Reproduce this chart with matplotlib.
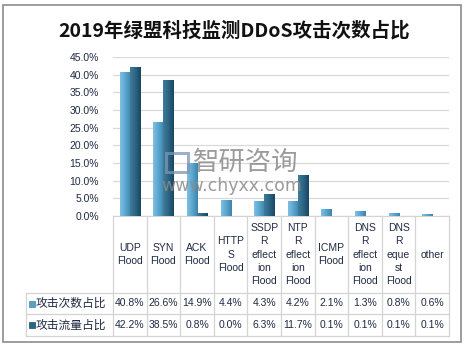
import matplotlib
matplotlib.use("Agg")
import matplotlib.pyplot as plt
from matplotlib.patches import Rectangle
from matplotlib.colors import LinearSegmentedColormap
import numpy as np

# Data
categories = ["UDP\nFlood", "SYN\nFlood", "ACK\nFlood", "HTTP\nS\nFlood",
              "SSDP\nR\neflect\nion\nFlood", "NTP\nR\neflect\nion\nFlood",
              "ICMP\nFlood", "DNS\nR\neflect\nion\nFlood",
              "DNS\nR\neque\nst\nFlood", "other"]
series_names = ["攻击次数占比", "攻击流量占比"]
count_share = [40.8, 26.6, 14.9, 4.4, 4.3, 4.2, 2.1, 1.3, 0.8, 0.6]
traffic_share = [42.2, 38.5, 0.8, 0.0, 6.3, 11.7, 0.1, 0.1, 0.1, 0.1]
yticks = [0, 5, 10, 15, 20, 25, 30, 35, 40, 45]

colors = ["#5aa0c6", "#2b6584"]
edges = ["#3f86ad", "#1c4c66"]
grads = [["#7fbfe0", "#5aa6cf", "#3d83a8"], ["#3f7c9c", "#2b6584", "#184660"]]
text_color = "#1f2a44"
line_color = "#d4d4d4"

plt.rcParams["font.family"] = ["Liberation Sans", "Noto Sans CJK SC", "DejaVu Sans"]

W, H = 468, 348
fig = plt.figure(figsize=(W / 100, H / 100), dpi=100)

# outer frame
fig.patches.append(Rectangle((3 / W, 1 - 342 / H), 458 / W, 337 / H,
                             transform=fig.transFigure, fill=False,
                             edgecolor="#8c8c8c", lw=1.2))

fig.text(234 / W, 1 - 31 / H, "2019年绿盟科技监测DDoS攻击次数占比",
         ha="center", va="center", fontsize=14, fontweight="bold",
         family=["Noto Sans CJK SC", "DejaVu Sans"], color="#111111")

# plot area
ax_l, ax_r, ax_t, ax_b = 113, 449, 57, 216
ax = fig.add_axes([ax_l / W, 1 - ax_b / H, (ax_r - ax_l) / W, (ax_b - ax_t) / H])
x = np.arange(len(categories))
bw = 0.3
grad_img = np.linspace(0, 1, 64).reshape(1, -1)
for k, vals in enumerate([count_share, traffic_share]):
    bars = ax.bar(x + (k - 0.5) * bw, vals, bw, color=colors[k], edgecolor=edges[k],
                  lw=0.6, zorder=3)
    cmap = LinearSegmentedColormap.from_list(f"g{k}", grads[k])
    for b in bars:
        if b.get_height() <= 0:
            continue
        bx, by = b.get_x(), b.get_y()
        im = ax.imshow(grad_img, cmap=cmap, aspect="auto", zorder=3.5,
                       extent=[bx, bx + b.get_width(), by, by + b.get_height()])
        im.set_clip_path(b)

ax.set_xlim(-0.5, len(categories) - 0.5)
ax.set_ylim(0, 45)
ax.set_yticks(yticks)
ax.set_yticklabels([f"{v:.1f}%" for v in yticks], fontsize=7.5, color=text_color)
ax.set_xticks([])
ax.tick_params(axis="y", length=0, pad=10)
ax.grid(axis="y", color="#d9d9d9", lw=0.9, zorder=0)
for s in ["left", "right", "top"]:
    ax.spines[s].set_visible(False)
ax.spines["bottom"].set_color(line_color)

# data table under the axes
px = (ax_b - ax_t)
y0 = 0
y1 = -(293 - ax_b) / px
y2 = -(314 - ax_b) / px
y3 = -(336 - ax_b) / px
cw = (ax_r - ax_l) / len(categories)
x_left = -0.5 - (ax_l - 26) / cw
tr = ax.get_xaxis_transform()
n = len(categories)

for b in np.arange(-0.5, n, 1.0):
    ax.plot([b, b], [y0, y3], transform=tr, color=line_color, lw=0.9, clip_on=False)
ax.plot([x_left, x_left], [y1, y3], transform=tr, color=line_color, lw=0.9, clip_on=False)
for yy in [y1, y2, y3]:
    ax.plot([x_left, n - 0.5], [yy, yy], transform=tr, color=line_color, lw=0.9, clip_on=False)

for i, lab in enumerate(categories):
    ax.text(i, (y0 + y1) / 2, lab, transform=tr, ha="center", va="center",
            fontsize=7.5, linespacing=1.38, color=text_color, clip_on=False)

rows = [count_share, traffic_share]
for r, (vals, yy) in enumerate(zip(rows, [(y1 + y2) / 2, (y2 + y3) / 2])):
    for i, v in enumerate(vals):
        ax.text(i, yy, f"{v:.1f}%", transform=tr, ha="center", va="center",
                fontsize=7.5, color=text_color, clip_on=False)
    sq = 6 / cw
    ax.add_patch(Rectangle((x_left + 2.5 / cw, yy - 3 / px), sq, 6 / px,
                           transform=tr, facecolor=colors[r], edgecolor=edges[r],
                           lw=0.5, clip_on=False))
    ax.text(x_left + 10 / cw, yy, series_names[r], transform=tr, ha="left", va="center",
            fontsize=8.5, color=text_color, family=["Noto Sans CJK SC", "DejaVu Sans"],
            clip_on=False)

# watermark
fig.patches.append(Rectangle((166 / W, 1 - 172 / H), 22 / W, 19 / H,
                             transform=fig.transFigure, fill=False,
                             edgecolor="#7f95b5", lw=2.2, alpha=0.75, zorder=10))
fig.text(246 / W, 1 - 162 / H, "智研咨询", ha="center", va="center", fontsize=19,
         color="#8a8a8a", alpha=0.85, family=["Noto Sans CJK SC", "DejaVu Sans"], zorder=10)
fig.text(232 / W, 1 - 186 / H, "www.chyxx.com", ha="center", va="center", fontsize=12.5,
         color="#8a8a8a", alpha=0.85, family=["DejaVu Sans"], zorder=10)

fig.savefig("out.png", dpi=100)
plt.close(fig)
